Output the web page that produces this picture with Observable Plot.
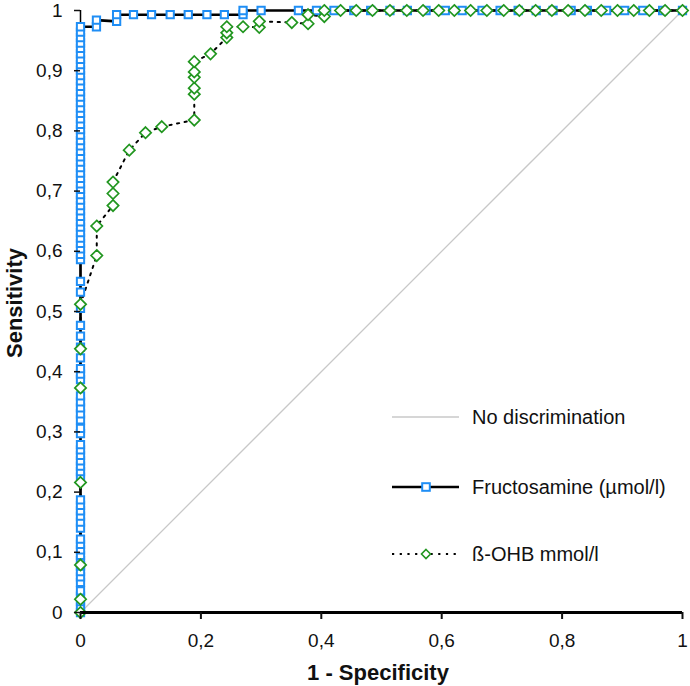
<!DOCTYPE html>
<html>
<head>
<meta charset="utf-8">
<script src="https://cdn.jsdelivr.net/npm/d3@7"></script>
<script src="https://cdn.jsdelivr.net/npm/@observablehq/plot@0.6"></script>
<style>
  html, body { margin: 0; padding: 0; background: #fff; }
  #wrap { position: relative; width: 690px; height: 686px; font-family: "Liberation Sans", Arial, sans-serif; }
  #legend { position: absolute; left: 388px; top: 400px; font-size: 20px; color: #111; font-family: "Liberation Sans", Arial, sans-serif; }
  .lrow { position: absolute; left: 0; display: flex; align-items: center; white-space: nowrap; height: 24px; }
  .lrow svg { display: block; }
  .lrow span { margin-left: 12px; line-height: 24px; }
</style>
</head>
<body>
<div id="wrap"></div>
<script>
// ---------- data ----------
const xTicks = [0, 0.2, 0.4, 0.6, 0.8, 1];
const xTickLabels = ["0", "0,2", "0,4", "0,6", "0,8", "1"];
const yTicks = [0, 0.1, 0.2, 0.3, 0.4, 0.5, 0.6, 0.7, 0.8, 0.9, 1];
const yTickLabels = ["0", "0,1", "0,2", "0,3", "0,4", "0,5", "0,6", "0,7", "0,8", "0,9", "1"];

const seriesNames = ["No discrimination", "Fructosamine (µmol/l)", "ß-OHB mmol/l"];

const diagFPR = [0, 1];
const diagSens = [0, 1];

// Fructosamine ROC (1 - specificity, sensitivity)
const fructFPR = [
  0, 0, 0, 0, 0, 0, 0, 0, 0, 0, 0, 0, 0, 0, 0, 0, 0, 0, 0, 0, 0, 0, 0, 0, 0, 0, 0, 0, 0, 0,
  0, 0, 0, 0, 0, 0, 0, 0, 0, 0, 0, 0, 0, 0, 0, 0, 0, 0, 0, 0, 0, 0, 0, 0, 0, 0, 0, 0, 0, 0,
  0, 0, 0, 0, 0, 0, 0, 0, 0, 0, 0, 0, 0, 0, 0, 0, 0, 0, 0, 0, 0, 0, 0, 0, 0, 0, 0, 0,
  0.0265, 0.0265, 0.06, 0.06, 0.088, 0.118, 0.149, 0.179, 0.21, 0.239, 0.27, 0.27, 0.30,
  0.362, 0.392, 0.421, 0.454, 0.482, 0.514, 0.543, 0.574, 0.606, 0.634, 0.667, 0.697,
  0.727, 0.757, 0.785, 0.815, 0.842, 0.874, 0.904, 0.934, 0.967, 1.0
];
const fructSens = [
  0, 0.009, 0.018, 0.027, 0.036, 0.05, 0.059, 0.068, 0.077, 0.086, 0.095, 0.104, 0.113, 0.122,
  0.14, 0.15, 0.16, 0.169, 0.178, 0.187, 0.225, 0.234, 0.243, 0.252, 0.261, 0.27, 0.279,
  0.297, 0.306, 0.32, 0.33, 0.34, 0.35, 0.36, 0.387, 0.396, 0.405, 0.423, 0.441, 0.459,
  0.477, 0.505, 0.532, 0.55,
  0.586, 0.595, 0.604, 0.613, 0.622, 0.631, 0.64, 0.649, 0.658, 0.667, 0.676, 0.685, 0.694,
  0.703, 0.712, 0.721, 0.73, 0.739, 0.748, 0.757, 0.766, 0.775, 0.784, 0.793, 0.802, 0.811,
  0.82, 0.829, 0.838, 0.847, 0.856, 0.865, 0.874, 0.883, 0.892, 0.901, 0.91, 0.919, 0.928,
  0.937, 0.946, 0.955, 0.964, 0.973,
  0.973, 0.984, 0.982, 0.993, 0.993, 0.993, 0.993, 0.993, 0.993, 0.993, 0.993, 1.0, 1.0,
  1.0, 1.0, 1.0, 1.0, 1.0, 1.0, 1.0, 1.0, 1.0, 1.0, 1.0, 1.0,
  1.0, 1.0, 1.0, 1.0, 1.0, 1.0, 1.0, 1.0, 1.0, 1.0
];

// ß-OHB ROC
const ohbFPR = [
  0, 0, 0, 0, 0, 0, 0, 0.027, 0.027, 0.054, 0.054, 0.054, 0.081, 0.108, 0.135,
  0.189, 0.189, 0.189, 0.189, 0.189, 0.189, 0.216, 0.243, 0.243, 0.243, 0.27, 0.297, 0.297,
  0.351, 0.378, 0.378, 0.405, 0.405, 0.432,
  0.458, 0.485, 0.514, 0.542, 0.569, 0.595, 0.621, 0.648, 0.675, 0.703, 0.729, 0.756,
  0.783, 0.81, 0.838, 0.865, 0.892, 0.919, 0.945, 0.971, 1.0
];
const ohbSens = [
  0, 0.022, 0.079, 0.216, 0.373, 0.438, 0.512, 0.593, 0.642, 0.676, 0.696, 0.715, 0.768, 0.797, 0.807,
  0.818, 0.861, 0.871, 0.889, 0.898, 0.915, 0.928, 0.955, 0.963, 0.973, 0.973, 0.972, 0.982,
  0.98, 0.978, 0.993, 0.99, 1.0, 1.0,
  1.0, 1.0, 1.0, 1.0, 1.0, 1.0, 1.0, 1.0, 1.0, 1.0, 1.0, 1.0,
  1.0, 1.0, 1.0, 1.0, 1.0, 1.0, 1.0, 1.0, 1.0
];

const BLUE = "#1f8ef5";
const GREEN = "#21961f";

// ---------- build tables ----------
const diag = diagFPR.map((x, i) => ({x, y: diagSens[i]}));
const fruct = fructFPR.map((x, i) => ({x, y: fructSens[i]}));
const ohb = ohbFPR.map((x, i) => ({x, y: ohbSens[i]}));

const chart = Plot.plot({
  width: 690,
  height: 686,
  marginLeft: 80,
  marginRight: 8,
  marginTop: 10,
  marginBottom: 74,
  x: {domain: [0, 1]},
  y: {domain: [0, 1]},
  style: {fontFamily: "'Liberation Sans', Arial, sans-serif", fontSize: "19px", color: "#111", background: "#fff", overflow: "visible"},
  marks: [
    Plot.line(diag, {x: "x", y: "y", stroke: "#c8c8c8", strokeWidth: 1.3}),
    Plot.ruleX([0], {stroke: "#000", strokeWidth: 1.5}),
    Plot.line(fruct, {x: "x", y: "y", stroke: "#000", strokeWidth: 2.6}),
    Plot.line(ohb, {x: "x", y: "y", stroke: "#000", strokeWidth: 2, strokeDasharray: "2.2,5.5"}),
    Plot.dot(fruct, {x: "x", y: "y", symbol: "square", r: 4.1, stroke: BLUE, fill: "#fff", strokeWidth: 2}),
    Plot.dot(ohb, {x: "x", y: "y", symbol: "diamond2", r: 5.1, stroke: GREEN, fill: "#fff", strokeWidth: 1.7}),
    Plot.ruleY([0], {stroke: "#000", strokeWidth: 3}),
    Plot.axisX({ticks: xTicks, tickFormat: d => xTickLabels[xTicks.indexOf(d)], tickSize: 7, tickPadding: 14, strokeWidth: 2, label: null, fontSize: 19}),
    Plot.axisY({ticks: yTicks, tickFormat: d => yTickLabels[yTicks.indexOf(d)], tickSize: 6, tickPadding: 12, strokeWidth: 1.5, label: null, fontSize: 19})
  ]
});

const wrap = document.getElementById("wrap");
wrap.appendChild(chart);

// enforce tick label size on every text Plot produced
const svg = d3.select(chart);
svg.selectAll("text").style("font-size", "19px").attr("font-size", 19);

// axis titles
svg.append("text")
  .attr("x", 378).attr("y", 680)
  .attr("text-anchor", "middle")
  .attr("font-weight", "bold")
  .style("font-size", "22px")
  .attr("fill", "#111")
  .text("1 - Specificity");
svg.append("text")
  .attr("transform", "translate(22,303) rotate(-90)")
  .attr("text-anchor", "middle")
  .attr("font-weight", "bold")
  .style("font-size", "22px")
  .attr("fill", "#111")
  .text("Sensitivity");

// legend (HTML overlay)
const legend = d3.select(wrap).append("div").attr("id", "legend");
const rows = [
  {name: seriesNames[0], top: 5, kind: "diag"},
  {name: seriesNames[1], top: 75, kind: "fruct"},
  {name: seriesNames[2], top: 142, kind: "ohb"}
];
rows.forEach(r => {
  const row = legend.append("div").attr("class", "lrow").style("top", r.top + "px");
  const s = row.append("svg").attr("width", 72).attr("height", 24);
  if (r.kind === "diag") {
    s.append("line").attr("x1", 4).attr("x2", 71).attr("y1", 12).attr("y2", 12).attr("stroke", "#c8c8c8").attr("stroke-width", 1.5);
  } else if (r.kind === "fruct") {
    s.append("line").attr("x1", 4).attr("x2", 71).attr("y1", 12).attr("y2", 12).attr("stroke", "#000").attr("stroke-width", 2.6);
    s.append("rect").attr("x", 34.2).attr("y", 8.2).attr("width", 7.6).attr("height", 7.6).attr("fill", "#fff").attr("stroke", BLUE).attr("stroke-width", 2);
  } else {
    s.append("line").attr("x1", 4).attr("x2", 71).attr("y1", 12).attr("y2", 12).attr("stroke", "#000").attr("stroke-width", 2).attr("stroke-dasharray", "2.2,5.5");
    s.append("path").attr("d", "M38,7.5L42.5,12L38,16.5L33.5,12Z").attr("fill", "#fff").attr("stroke", GREEN).attr("stroke-width", 1.6);
  }
  row.append("span").text(r.name);
});
</script>
</body>
</html>
